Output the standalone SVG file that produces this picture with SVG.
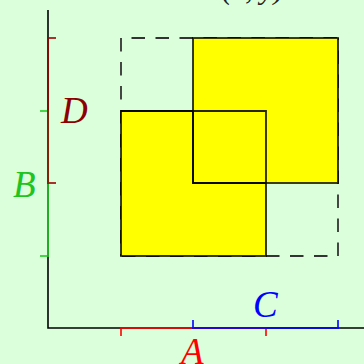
<svg xmlns="http://www.w3.org/2000/svg" width="364" height="364" viewBox="0 0 364 364">
<style>
.lbl{font-family:"Liberation Serif","Times New Roman",serif;font-style:italic;font-size:37px}
.box{stroke:#000;stroke-width:1.8;stroke-opacity:0.85}
.dash{fill:none;stroke:#333;stroke-width:1.8;stroke-dasharray:13.5 10.5}
.br{fill:none;stroke-width:2;stroke-opacity:0.8}
</style>
<rect x="0" y="0" width="364" height="364" fill="#dbffdb"/>
<g id="bounding-box">
<line class="dash" x1="121" y1="38" x2="121" y2="256"/>
<line class="dash" x1="121" y1="38" x2="338" y2="38" stroke-dashoffset="13.5"/>
<line class="dash" x1="338" y1="256" x2="338" y2="38"/>
<line class="dash" x1="338" y1="256" x2="121" y2="256" stroke-dashoffset="13.5"/>
</g>
<g id="rect-lower">
<rect x="121" y="111" width="145" height="145" fill="#ffff00" class="box"/>
</g>
<g id="rect-upper">
<rect x="193" y="38" width="145" height="145" fill="#ffff00" class="box"/>
<path d="M193,111 V183 H266 M121,111 H266 V183" fill="none" class="box" stroke-opacity="0.7"/>
</g>
<g id="axes" fill="none" stroke="#000" stroke-width="1.6">
<path d="M48,10 V328 H364"/>
</g>
<g id="brackets">
<path class="br" stroke="#ff0000" d="M121,336 V328 H266 V336"/>
<path class="br" stroke="#0000ff" d="M193,320 V328 H338 V320"/>
<path class="br" stroke="#22cc22" d="M40,111 H48 V256 H40"/>
<path class="br" stroke="#990000" d="M56,38 H48 V183 H56"/>
</g>
<g id="labels">
<text class="lbl" x="61" y="123" fill="#8b0000">D</text>
<text class="lbl" x="13" y="197" fill="#1fc41f">B</text>
<text class="lbl" x="253" y="317" fill="#0000ff">C</text>
<text class="lbl" x="181" y="364" fill="#ff0000">A</text>
<text x="222" y="-1" font-family="Liberation Serif, serif" font-style="italic" font-size="30" fill="#222">(x, y)</text>
</g>
</svg>
